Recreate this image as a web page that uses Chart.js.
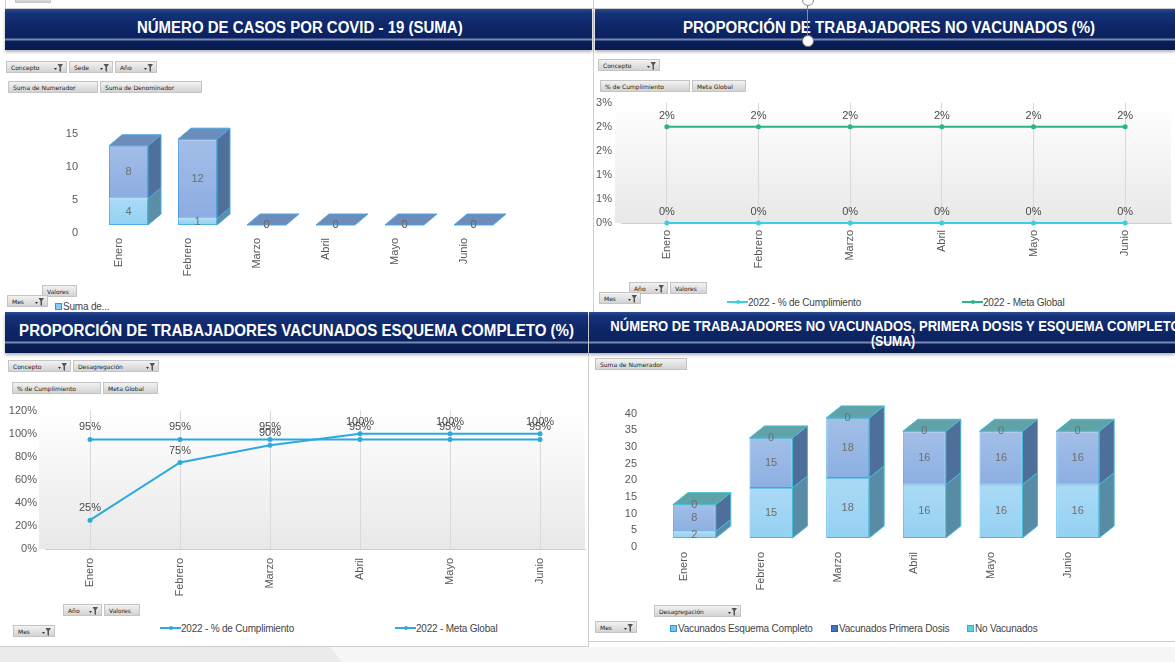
<!DOCTYPE html>
<html lang="es">
<head>
<meta charset="utf-8">
<title>Indicadores COVID-19</title>
<script src="https://cdn.jsdelivr.net/npm/chart.js@4.4.0/dist/chart.umd.min.js"></script>
<style>
  html, body { margin: 0; padding: 0; }
  body { width: 1175px; height: 662px; position: relative; overflow: hidden; background: #fff;
         font-family: "Liberation Sans", Arial, sans-serif; }
  canvas { position: absolute; }
  .hdr { position: absolute; height: 41px; overflow: hidden;
         background: linear-gradient(to bottom, #2c4c90 0px, #15327a 4px, #0d2666 18px, #0b2262 29px,
                     #7b89aa 30px, #7b89aa 31px, #0a1f5a 32px, #071a50 41px);
         box-shadow: 0 2px 3px rgba(0,0,0,0.3); }
  .ttl { position: absolute; white-space: nowrap; color: #fff; font-weight: bold; font-size: 16px;
         transform-origin: center center; }
  .btn { position: absolute; height: 12px; line-height: 12px; font-family: "DejaVu Sans", sans-serif;
         font-size: 6px; color: #222; padding-left: 4px; box-sizing: border-box; white-space: nowrap;
         background: linear-gradient(#f2f2f2, #d3d3d3); border: 1px solid #c4c4c4; }
  .btn svg { position: absolute; right: 3px; top: 2px; }
  .leg { position: absolute; font-size: 10px; color: #444; white-space: nowrap; letter-spacing: -0.2px; }
  .leg i { display: inline-block; width: 5px; height: 5px; border: 1px solid #2a8fd0; margin-right: 1px; vertical-align: 0; }
  .leg b { display: inline-block; width: 21px; height: 2px; vertical-align: 3px; position: relative; }
  .leg b:after { content: ''; position: absolute; left: 9px; top: -1px; width: 4px; height: 4px; border-radius: 2px; background: inherit; }
  .ln { position: absolute; background: #cfcfcf; }
</style>
</head>
<body>

<!-- marcos y separadores -->
<div class="ln" style="left:5px;top:0;width:1px;height:9px"></div>
<div class="btn" style="left:15px;top:-9px;width:36px"></div>
<div class="ln" style="left:5px;top:8px;width:1170px;height:1px"></div>
<div class="ln" style="left:593px;top:0;width:1px;height:312px"></div>
<div class="ln" style="left:588px;top:352px;width:1px;height:294px"></div>
<div class="ln" style="left:0;top:646px;width:589px;height:1px"></div>
<div class="ln" style="left:588px;top:641px;width:587px;height:1px"></div>
<div style="position:absolute;left:0;top:647px;width:1175px;height:15px;background:#ebebeb"></div>
<div style="position:absolute;left:330px;top:647px;width:845px;height:15px;background:#f6f6f6;clip-path:polygon(0 0,100% 0,100% 100%,12px 100%)"></div>

<!-- encabezados -->
<div class="hdr" style="left:5px;top:9px;width:587px"><span class="ttl" data-cx="295" data-w="326">NÚMERO DE CASOS POR COVID - 19 (SUMA)</span></div>
<div class="hdr" style="left:595px;top:9px;width:580px"><span class="ttl" data-cx="294" data-w="412">PROPORCIÓN DE TRABAJADORES NO VACUNADOS (%)</span></div>
<div class="hdr" style="left:5px;top:312px;width:583px"><span class="ttl" data-cx="291" data-w="555">PROPORCIÓN DE TRABAJADORES VACUNADOS ESQUEMA COMPLETO (%)</span></div>
<div class="hdr" style="left:589px;top:312px;width:586px">
  <span class="ttl" data-cx="306" data-w="570" data-y="5" style="font-size:15px">NÚMERO DE TRABAJADORES NO VACUNADOS, PRIMERA DOSIS Y ESQUEMA COMPLETO</span>
  <span class="ttl" data-cx="304" data-w="44" data-y="20" style="font-size:15px">(SUMA)</span>
</div>

<!-- asa de selección -->
<div style="position:absolute;left:807px;top:2px;width:1px;height:33px;background:#8a8a8a"></div>
<div style="position:absolute;left:802px;top:-6px;width:10px;height:10px;border:1px solid #8a8a8a;border-radius:50%;background:#fff"></div>
<div style="position:absolute;left:802px;top:35px;width:10px;height:10px;border:1px solid #7a7a7a;border-radius:50%;background:#fff"></div>

<canvas id="casos" width="480" height="180" style="left:40px;top:100px"></canvas>
<canvas id="noVac" width="585" height="193" style="left:590px;top:87px"></canvas>
<canvas id="esquema" width="590" height="204" style="left:0;top:396px"></canvas>
<canvas id="trabajadores" width="585" height="221" style="left:590px;top:379px"></canvas>

<div id="controles"></div>

<script>
// ---- datos ----
const meses = ['Enero', 'Febrero', 'Marzo', 'Abril', 'Mayo', 'Junio'];

// número de casos por covid-19
const casosNumerador = [4, 1, 0, 0, 0, 0];
const casosDenominador = [8, 12, 0, 0, 0, 0];

// proporción de trabajadores no vacunados (%)
const noVacCumplimiento = [0, 0, 0, 0, 0, 0];
const noVacMeta = [2, 2, 2, 2, 2, 2];

// proporción de trabajadores con esquema completo (%)
const esqCumplimiento = [25, 75, 90, 100, 100, 100];
const esqMeta = [95, 95, 95, 95, 95, 95];

// número de trabajadores por desagregación
const vacEsquemaCompleto = [2, 15, 18, 16, 16, 16];
const vacPrimeraDosis = [8, 15, 18, 16, 16, 16];
const noVacunados = [0, 0, 0, 0, 0, 0];

const serieCumplimiento = '2022 - % de Cumplimiento';
const serieMeta = '2022 - Meta Global';

// ---- títulos: ajustar ancho ----
document.querySelectorAll('.ttl').forEach(el => {
  const s = +el.dataset.w / el.offsetWidth;
  el.style.left = (+el.dataset.cx - el.offsetWidth / 2) + 'px';
  el.style.top = (el.dataset.y || 10) + 'px';
  el.style.transform = 'scaleX(' + s.toFixed(3) + ')';
});

// ---- botones de la tabla dinámica ----
const embudo = '<svg width="9" height="8" viewBox="0 0 9 8"><path d="M0 4h3L1.5 6z" fill="#333"/><path d="M3.5 0h5.5L7 3v5L5.5 7V3z" fill="#555"/></svg>';
const ctrl = document.getElementById('controles');
function boton(x, y, w, txt, filtro) {
  const d = document.createElement('div');
  d.className = 'btn';
  d.style.cssText = `left:${x}px;top:${y}px;width:${w}px`;
  d.innerHTML = txt + (filtro ? embudo : '');
  ctrl.appendChild(d);
}
function leyenda(x, y, html) {
  const d = document.createElement('div');
  d.className = 'leg';
  d.style.cssText = `left:${x}px;top:${y}px`;
  d.innerHTML = html;
  ctrl.appendChild(d);
}
const cuadro = (c, b) => `<i style="background:${c};border-color:${b}"></i>`;
const linea = c => `<b style="background:${c}"></b>`;

boton(6, 61, 61, 'Concepto', true); boton(69, 61, 44, 'Sede', true); boton(115, 61, 42, 'Año', true);
boton(8, 81, 90, 'Suma de Numerador'); boton(100, 81, 102, 'Suma de Denominador');
boton(42, 285, 35, 'Valores'); boton(7, 295, 41, 'Mes', true);
leyenda(55, 301, cuadro('#7fd0f4', '#2d9ad8') + 'Suma de...');

boton(598, 59, 62, 'Concepto', true);
boton(600, 80, 90, '% de Cumplimiento'); boton(692, 80, 54, 'Meta Global');
boton(629, 282, 39, 'Año', true); boton(670, 282, 37, 'Valores'); boton(599, 292, 42, 'Mes', true);
leyenda(727, 297, linea('#3dcfe0') + serieCumplimiento);
leyenda(962, 297, linea('#2bb587') + serieMeta);

boton(8, 360, 63, 'Concepto', true); boton(73, 360, 86, 'Desagregación', true);
boton(12, 382, 89, '% de Cumplimiento'); boton(103, 382, 55, 'Meta Global');
boton(63, 604, 39, 'Año', true); boton(104, 604, 36, 'Valores'); boton(13, 625, 42, 'Mes', true);
leyenda(160, 623, linea('#2ca9e1') + serieCumplimiento);
leyenda(395, 623, linea('#2ca9e1') + serieMeta);

boton(595, 358, 92, 'Suma de Numerador');
boton(654, 605, 87, 'Desagregación', true); boton(595, 621, 42, 'Mes', true);
leyenda(670, 623, cuadro('#6cc6f2', '#2d9ad8') + 'Vacunados Esquema Completo');
leyenda(831, 623, cuadro('#3f74c4', '#2a5aa8') + 'Vacunados Primera Dosis');
leyenda(967, 623, cuadro('#52d4dc', '#2fb4c4') + 'No Vacunados');

// ---- plugins ----
// caras laterales y superior de las barras (efecto 3D)
function cubos(dx, dy, lados, techo, borde) {
  return {
    id: 'cubos',
    afterDatasetsDraw(chart) {
      const ctx = chart.ctx;
      const n = chart.data.datasets.length;
      ctx.save();
      ctx.lineWidth = 1;
      ctx.strokeStyle = borde;
      chart.data.datasets.forEach((ds, di) => {
        chart.getDatasetMeta(di).data.forEach(b => {
          const l = b.x - b.width / 2, r = b.x + b.width / 2;
          const top = Math.min(b.y, b.base), bot = Math.max(b.y, b.base);
          if (bot - top > 0.5) {
            const g = ctx.createLinearGradient(0, top, 0, bot);
            g.addColorStop(0, 'rgba(255,255,255,0.2)');
            g.addColorStop(1, 'rgba(255,255,255,0)');
            ctx.fillStyle = g;
            ctx.fillRect(l, top, r - l, bot - top);
            ctx.fillStyle = lados[di];
            ctx.beginPath();
            ctx.moveTo(r, bot); ctx.lineTo(r, top);
            ctx.lineTo(r + dx, top - dy); ctx.lineTo(r + dx, bot - dy);
            ctx.closePath(); ctx.fill(); ctx.stroke();
          }
          if (di === n - 1) {
            ctx.fillStyle = techo;
            ctx.beginPath();
            ctx.moveTo(l, top); ctx.lineTo(l + dx, top - dy);
            ctx.lineTo(r + dx, top - dy); ctx.lineTo(r, top);
            ctx.closePath(); ctx.fill(); ctx.stroke();
          }
        });
      });
      ctx.restore();
    }
  };
}

// etiquetas de valor
function etiquetas(tipo, fmt, offset) {
  return {
    id: 'etiquetas',
    afterDatasetsDraw(chart) {
      const ctx = chart.ctx;
      ctx.save();
      ctx.font = '11px "Liberation Sans", Arial, sans-serif';
      ctx.fillStyle = tipo === 'bar' ? '#6e6e6e' : '#4a4a4a';
      ctx.textAlign = 'center';
      ctx.textBaseline = 'middle';
      chart.data.datasets.forEach((ds, di) => {
        chart.getDatasetMeta(di).data.forEach((el, i) => {
          const y = tipo === 'bar' ? (el.y + el.base) / 2 : el.y - offset;
          ctx.fillText(fmt(ds.data[i]), el.x, y);
        });
      });
      ctx.restore();
    }
  };
}

// fondo degradado del área de trazado
const fondo = {
  id: 'fondo',
  beforeDraw(chart) {
    const { ctx, chartArea: a } = chart;
    const g = ctx.createLinearGradient(0, a.top, 0, a.bottom);
    g.addColorStop(0, '#ffffff');
    g.addColorStop(1, '#e8e8e8');
    ctx.save();
    ctx.fillStyle = g;
    ctx.fillRect(a.left - 6, a.top, a.right - a.left + 6, a.bottom - a.top);
    ctx.restore();
  }
};

// ---- opciones comunes ----
const fuente = { family: '"Liberation Sans", Arial, sans-serif', size: 11 };
const gris = '#595959';

function ejeX(padding, labelOffset, alto, rejilla) {
  return {
    offset: true,
    grid: { display: rejilla, offset: false, drawTicks: false, color: '#d9d9d9' },
    border: { display: rejilla, color: '#cfcfcf' },
    ticks: { minRotation: 90, maxRotation: 90, padding, labelOffset, color: gris, font: fuente, autoSkip: false },
    afterFit: s => { s.height = alto; }
  };
}
function ejeY(min, max, paso, padding, labelOffset, ancho, fmt) {
  return {
    min, max,
    grid: { display: false, drawTicks: false },
    border: { display: false },
    ticks: { stepSize: paso, padding, labelOffset, color: gris, font: fuente, callback: fmt, autoSkip: false },
    afterFit: s => { s.width = ancho; }
  };
}
function base(padding) {
  return {
    responsive: false,
    animation: false,
    layout: { padding },
    plugins: { legend: { display: false }, tooltip: { enabled: false } }
  };
}

const pct = v => Math.round(v) + '%';
const linea2 = (label, data, color) => ({
  label, data, borderColor: color, backgroundColor: color,
  borderWidth: 2, pointRadius: 2.5, pointBorderWidth: 0, clip: 4
});

// ---- número de casos por covid-19 ----
const opCasos = base({ top: 26, right: 12 });
opCasos.scales = {
  x: { ...ejeX(13, -10, 55, false), stacked: true },
  y: { ...ejeY(0, 15, 5, 16, 8, 54), stacked: true }
};
new Chart(document.getElementById('casos'), {
  type: 'bar',
  data: {
    labels: meses,
    datasets: [
      { label: 'Suma de Numerador', data: casosNumerador, backgroundColor: '#93d2f3', borderColor: '#4cb0e8',
        borderWidth: 1, borderSkipped: false, barPercentage: 0.565, categoryPercentage: 1 },
      { label: 'Suma de Denominador', data: casosDenominador, backgroundColor: '#8cade2', borderColor: '#4f97dc',
        borderWidth: 1, borderSkipped: false, barPercentage: 0.565, categoryPercentage: 1 }
    ]
  },
  options: opCasos,
  plugins: [cubos(13, 11, ['#5c8ea8', '#50709c'], '#6c8cbc', '#4aa6e0'), etiquetas('bar', v => v)]
});

// ---- proporción de trabajadores no vacunados ----
const opNoVac = base({ top: 0, right: 2 });
opNoVac.scales = { x: ejeX(7, 0, 57, true), y: ejeY(0, 2.5, 0.5, 9, 0, 31, pct) };
new Chart(document.getElementById('noVac'), {
  type: 'line',
  data: {
    labels: meses,
    datasets: [
      linea2(serieCumplimiento, noVacCumplimiento, '#3dcfe0'),
      linea2(serieMeta, noVacMeta, '#2bb587')
    ]
  },
  options: opNoVac,
  plugins: [fondo, etiquetas('line', pct, 11)]
});

// ---- proporción de trabajadores con esquema completo ----
const opEsq = base({ top: 0, right: 5 });
opEsq.scales = { x: ejeX(9, 0, 51, true), y: ejeY(0, 120, 20, 8, 0, 45, v => v + '%') };
new Chart(document.getElementById('esquema'), {
  type: 'line',
  data: {
    labels: meses,
    datasets: [
      linea2(serieCumplimiento, esqCumplimiento, '#2ca9e1'),
      linea2(serieMeta, esqMeta, '#2ca9e1')
    ]
  },
  options: opEsq,
  plugins: [fondo, etiquetas('line', pct, 12)]
});

// ---- número de trabajadores por desagregación ----
const opTrab = base({ top: 0, right: 59 });
opTrab.scales = {
  x: { ...ejeX(14, -10, 62, false), stacked: true },
  y: { ...ejeY(0, 40, 5, 19, 9, 66), stacked: true }
};
new Chart(document.getElementById('trabajadores'), {
  type: 'bar',
  data: {
    labels: meses,
    datasets: [
      { label: 'Vacunados Esquema Completo', data: vacEsquemaCompleto, backgroundColor: '#95d1f3', borderColor: '#45b4e8',
        borderWidth: 1, borderSkipped: false, barPercentage: 0.56, categoryPercentage: 1 },
      { label: 'Vacunados Primera Dosis', data: vacPrimeraDosis, backgroundColor: '#8cafe2', borderColor: '#4f9fdc',
        borderWidth: 1, borderSkipped: false, barPercentage: 0.56, categoryPercentage: 1 },
      { label: 'No Vacunados', data: noVacunados, backgroundColor: '#5fa3a8', borderColor: '#44c4d4',
        borderWidth: 1, borderSkipped: false, barPercentage: 0.56, categoryPercentage: 1 }
    ]
  },
  options: opTrab,
  plugins: [cubos(15, 12, ['#588ca4', '#4f6f9b', '#5fa3a8'], '#5fa2a7', '#45bcd6'), etiquetas('bar', v => v)]
});
</script>
</body>
</html>
